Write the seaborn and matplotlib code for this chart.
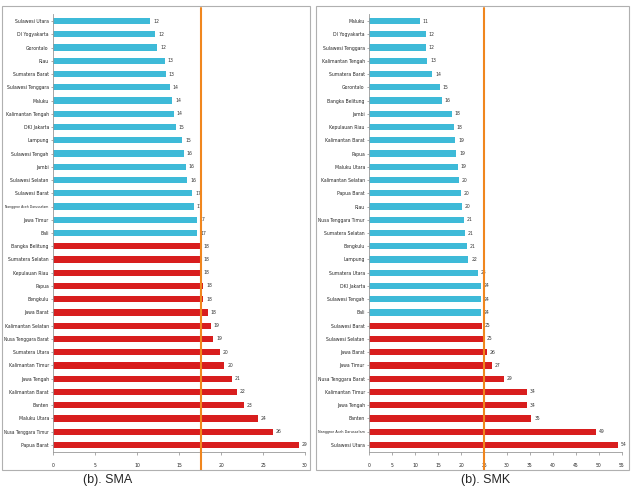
import matplotlib
matplotlib.use("Agg")
import matplotlib.pyplot as plt
import seaborn as sns
import pandas as pd
from matplotlib.patches import Rectangle
from matplotlib import font_manager

sma_regions = ["Sulawesi Utara", "DI Yogyakarta", "Gorontalo", "Riau", "Sumatera Barat",
               "Sulawesi Tenggara", "Maluku", "Kalimantan Tengah", "DKI Jakarta", "Lampung",
               "Sulawesi Tengah", "Jambi", "Sulawesi Selatan", "Sulawesi Barat",
               "Nanggroe Aceh Darussalam", "Jawa Timur", "Bali", "Bangka Belitung",
               "Sumatera Selatan", "Kepulauan Riau", "Papua", "Bengkulu", "Jawa Barat",
               "Kalimantan Selatan", "Nusa Tenggara Barat", "Sumatera Utara", "Kalimantan Timur",
               "Jawa Tengah", "Kalimantan Barat", "Banten", "Maluku Utara",
               "Nusa Tenggara Timur", "Papua Barat"]
sma_values = [11.6, 12.2, 12.4, 13.3, 13.4, 13.9, 14.2, 14.4, 14.6, 15.4, 15.6, 15.8, 16.0,
              16.6, 16.8, 17.1, 17.2, 17.6, 17.6, 17.6, 17.9, 17.9, 18.4, 18.8, 19.1, 19.9,
              20.4, 21.3, 21.9, 22.7, 24.4, 26.2, 29.3]
sma_blue_count = 17
sma_line = 17.6

smk_regions = ["Maluku", "DI Yogyakarta", "Sulawesi Tenggara", "Kalimantan Tengah",
               "Sumatera Barat", "Gorontalo", "Bangka Belitung", "Jambi", "Kepulauan Riau",
               "Kalimantan Barat", "Papua", "Maluku Utara", "Kalimantan Selatan", "Papua Barat",
               "Riau", "Nusa Tenggara Timur", "Sumatera Selatan", "Bengkulu", "Lampung",
               "Sumatera Utara", "DKI Jakarta", "Sulawesi Tengah", "Bali", "Sulawesi Barat",
               "Sulawesi Selatan", "Jawa Barat", "Jawa Timur", "Nusa Tenggara Barat",
               "Kalimantan Timur", "Jawa Tengah", "Banten", "Nanggroe Aceh Darussalam",
               "Sulawesi Utara"]
smk_values = [11.0, 12.3, 12.4, 12.7, 13.8, 15.4, 15.9, 18.0, 18.4, 18.8, 19.0, 19.3, 19.6,
              19.9, 20.2, 20.7, 20.9, 21.3, 21.6, 23.6, 24.4, 24.4, 24.4, 24.6, 24.9, 25.6,
              26.7, 29.4, 34.4, 34.4, 35.3, 49.3, 54.2]
smk_blue_count = 23
smk_line = 25.0

captions = ["(b). SMA", "(b). SMK"]

BLUE = "#3ebad8"
RED = "#d81e1e"
ORANGE = "#f0861e"

sns.set_theme(style="white")
plt.rcParams["font.family"] = ["DejaVu Sans"]

def small_fp(size=3.7):
    return font_manager.FontProperties(family="DejaVu Sans", stretch="condensed", size=size)

fig = plt.figure(figsize=(6.31, 4.86), dpi=100)
W, H = 631, 486

def px_axes(x0, x1, ytop, ybot):
    return fig.add_axes([x0 / W, 1 - ybot / H, (x1 - x0) / W, (ybot - ytop) / H])

panels = [
    (sma_regions, sma_values, sma_blue_count, sma_line, 30, (53, 305), (2, 310), 108),
    (smk_regions, smk_values, smk_blue_count, smk_line, 55, (369, 622), (316, 629), 486),
]

axes = []
for i, (regs, vals, nblue, line, xmax, (ax0, ax1), (b0, b1), capx) in enumerate(panels):
    fig.add_artist(Rectangle((b0 / W, 1 - 470 / H), (b1 - b0) / W, (470 - 6) / H,
                             transform=fig.transFigure, fill=False, edgecolor="#b0b0b0", lw=0.8))
    ax = px_axes(ax0, ax1, 14.4, 451.6)
    grp = ["low" if k < nblue else "high" for k in range(len(regs))]
    df = pd.DataFrame({"region": regs, "value": vals, "grp": grp})
    sns.barplot(data=df, y="region", x="value", hue="grp", orient="h",
                palette={"low": BLUE, "high": RED}, width=0.48, dodge=False,
                legend=False, ax=ax, saturation=1, edgecolor="none")
    for c in ax.containers:
        labs = ax.bar_label(c, fmt="%.0f", padding=2, color="#333333")
        for t in labs:
            t.set_fontproperties(small_fp())
    ax.set_xlim(0, xmax)
    ax.set_xticks(range(0, xmax + 1, 5))
    ax.set_xlabel("")
    ax.set_ylabel("")
    ax.tick_params(axis="x", length=2, width=0.5, color="#888888", pad=6, bottom=True)
    ax.tick_params(axis="y", length=1.5, width=0.5, color="#888888", pad=1.5, left=True)
    for t in ax.get_xticklabels() + ax.get_yticklabels():
        t.set_fontproperties(small_fp())
    for s in ["top", "right"]:
        ax.spines[s].set_visible(False)
    for s in ["left", "bottom"]:
        ax.spines[s].set_color("#999999")
        ax.spines[s].set_linewidth(0.6)
    ax.axvline(line, ymin=-0.042, ymax=1.015, color=ORANGE, lw=1.5, clip_on=False, zorder=5)
    fig.text(capx / W, 1 - 480 / H, captions[i],
             fontsize=9, family=["Liberation Sans", "DejaVu Sans"], ha="center", va="center")
    axes.append((ax, b0))

# shrink any category label that would cross the panel border
fig.canvas.draw()
renderer = fig.canvas.get_renderer()
for ax, b0 in axes:
    for t in ax.get_yticklabels():
        bb = t.get_window_extent(renderer)
        avail = bb.x1 - (b0 + 3)
        if bb.width > avail:
            t.set_fontproperties(small_fp(3.7 * avail / bb.width))

fig.savefig("out.png", dpi=100)
